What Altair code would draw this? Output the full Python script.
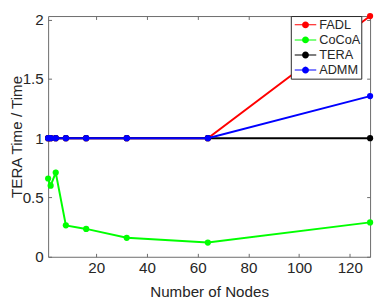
import math
import altair as alt
import pandas as pd

nodes = [1, 2, 4, 8, 16, 32, 64, 128]
fadl = [1.0, 1.0, 1.0, 1.0, 1.0, 1.0, 1.0, 2.03]
cocoa = [0.66, 0.60, 0.71, 0.265, 0.235, 0.16, 0.12, 0.29]
tera = [1.0, 1.0, 1.0, 1.0, 1.0, 1.0, 1.0, 1.0]
admm = [1.0, 1.0, 1.0, 1.0, 1.0, 1.0, 1.0, 1.355]
series_names = ["FADL", "CoCoA", "TERA", "ADMM"]
series_colors = ["#ff0000", "#00ff00", "#000000", "#0000ff"]
x_ticks = [20, 40, 60, 80, 100, 120]
y_ticks = [0, 0.5, 1, 1.5, 2]

rows = []
for name, vals in zip(series_names, [fadl, cocoa, tera, admm]):
    for n, v in zip(nodes, vals):
        rows.append({"Nodes": n, "Value": v, "Series": name})
df = pd.DataFrame(rows)

W, H = 329, 246
FONT = "Liberation Sans"
TXT = "#262626"
AX = "#6a6a6a"
FS = 15.5
TS = 3.5

xscale = alt.Scale(domain=[1, 128], nice=False, zero=False)
yscale = alt.Scale(domain=[0, 2.03], nice=False, zero=False)
cscale = alt.Scale(domain=series_names, range=series_colors)

main_x = alt.Axis(values=x_ticks, orient="bottom", offset=-TS, ticks=True, tickSize=TS,
                  tickColor=AX, tickWidth=1, grid=False, domain=False,
                  labelFont=FONT, labelFontSize=FS, labelColor=TXT, labelPadding=4,
                  title="Number of Nodes", titleFont=FONT, titleFontSize=FS,
                  titleFontWeight="normal", titleColor=TXT, titlePadding=9)
main_y = alt.Axis(values=y_ticks, orient="left", offset=-TS, ticks=True, tickSize=TS,
                  tickColor=AX, tickWidth=1, grid=False, domain=False, format="~g",
                  labelFont=FONT, labelFontSize=FS, labelColor=TXT, labelPadding=5,
                  title="TERA Time / Time", titleFont=FONT, titleFontSize=FS,
                  titleFontWeight="normal", titleColor=TXT,
                  titleX=-36, titleY=H / 2, titleAngle=270, titleBaseline="middle",
                  titleAlign="center")


def tick_axis(values, orient):
    return alt.Axis(values=values, orient=orient, offset=-TS, labels=False,
                    domain=False, grid=False, ticks=True, tickSize=TS,
                    tickColor=AX, tickWidth=1, title=None)


# legend symbol: thin bar (the line) plus a dot, all filled
r = 0.44
hw = 0.0625
circ = " ".join(
    ("M" if i == 0 else "L") + f"{r*math.cos(2*math.pi*i/16):.3f},{r*math.sin(2*math.pi*i/16):.3f}"
    for i in range(16)
) + " Z"
sym_path = f"M-1.375,{-hw} L1.375,{-hw} L1.375,{hw} L-1.375,{hw} Z " + circ

legend = alt.Legend(
    title=None, orient="none", legendX=248, legendY=0,
    symbolType=sym_path, symbolSize=256, symbolStrokeWidth=0,
    symbolOffset=6, labelOffset=6,
    labelFont=FONT, labelFontSize=13, labelColor=TXT, rowPadding=0.4, padding=1,
    strokeColor="#262626", fillColor="white",
)

base = alt.Chart(df)
layers = []
first = True
for name in series_names:
    sub = base.transform_filter(alt.datum.Series == name)
    xa = main_x if first else None
    ya = main_y if first else None
    line = sub.mark_line(strokeWidth=2, opacity=1).encode(
        x=alt.X("Nodes:Q", scale=xscale, axis=xa),
        y=alt.Y("Value:Q", scale=yscale, axis=ya),
        color=alt.Color("Series:N", scale=cscale, legend=legend),
    )
    pts = sub.mark_circle(size=40, opacity=1).encode(
        x=alt.X("Nodes:Q", scale=xscale, axis=None),
        y=alt.Y("Value:Q", scale=yscale, axis=None),
        color=alt.Color("Series:N", scale=cscale, legend=legend),
    )
    layers += [line, pts]
    first = False

ax_b = base.mark_point(opacity=0).encode(
    x=alt.X("Nodes:Q", scale=xscale, axis=tick_axis(x_ticks, "top")),
    y=alt.Y("Value:Q", scale=yscale, axis=tick_axis(y_ticks, "right")),
)

chart = alt.layer(*layers, ax_b).resolve_axis(
    x="independent", y="independent"
).properties(
    width=W, height=H,
    autosize=alt.AutoSizeParams(type="none"),
    padding={"left": 41, "top": 5, "right": 4, "bottom": 44},
).configure_view(stroke=AX, strokeWidth=1)

chart.save("out.html", embed_options={"renderer": "svg", "actions": False})
